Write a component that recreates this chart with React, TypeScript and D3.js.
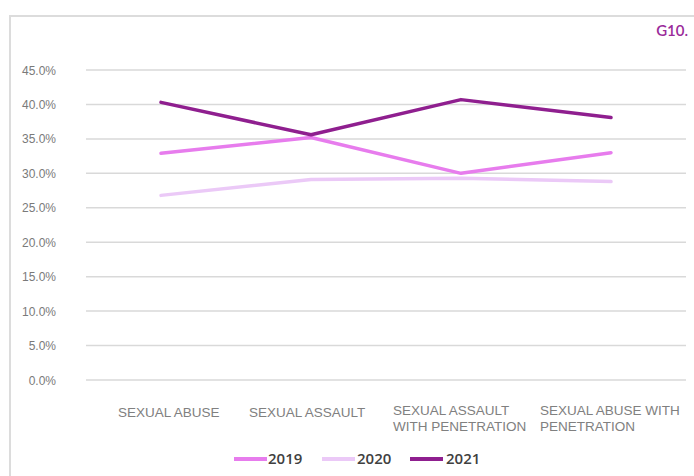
import React from "react";
import * as d3 from "d3";

const categories: string[][] = [
  ["SEXUAL ABUSE"],
  ["SEXUAL ASSAULT"],
  ["SEXUAL ASSAULT", "WITH PENETRATION"],
  ["SEXUAL ABUSE WITH", "PENETRATION"],
];
const seriesNames = ["2019", "2020", "2021"];
const values2019 = [32.9, 35.2, 30.0, 33.0];
const values2020 = [26.8, 29.1, 29.3, 28.8];
const values2021 = [40.3, 35.6, 40.7, 38.1];
const yTicks = [0, 5, 10, 15, 20, 25, 30, 35, 40, 45];
const seriesColors = ["#e77ced", "#ebc9f7", "#8f1f8f"];

const W = 694;
const H = 476;
const plot = { left: 86, right: 686, top: 70, bottom: 380 };
// left edge of each caption block, relative to its band centre
const labelShift = [-43, -62, -68, -71];

export default function App() {
  const x = d3
    .scaleBand<number>()
    .domain(categories.map((_, i) => i))
    .range([plot.left, plot.right]);
  const y = d3.scaleLinear().domain([0, 45]).range([plot.bottom, plot.top]);
  const line = d3
    .line<number>()
    .x((_, i) => (x(i) as number) + x.bandwidth() / 2)
    .y((v) => y(v));
  const series = [values2019, values2020, values2021];

  const legendItems = [
    { lx: 234, tx: 268 },
    { lx: 322, tx: 357 },
    { lx: 410, tx: 446 },
  ];

  return (
    <svg
      width={W}
      height={H}
      style={{ position: "absolute", left: 0, top: 0, background: "#fff" }}
      fontFamily="'Liberation Sans', Arial, sans-serif"
    >
      <rect x={10} y={16} width={W + 10} height={H + 10} fill="none" stroke="#dcdcdc" strokeWidth={2} />
      <text x={688} y={36} textAnchor="end" fontSize={15} fontWeight={600} fill="#9a2b9a" fontFamily="Lato, sans-serif">
        G10.
      </text>

      {yTicks.map((t) => (
        <g key={t}>
          <line x1={plot.left} x2={plot.right} y1={y(t)} y2={y(t)} stroke="#d9d9d9" strokeWidth={1.5} />
          <text x={56} y={y(t) + 4.5} textAnchor="end" fontSize={12} fill="#7a7a7a">
            {t.toFixed(1)}%
          </text>
        </g>
      ))}

      {series.map((vals, si) => (
        <path
          key={si}
          d={line(vals) || ""}
          fill="none"
          stroke={seriesColors[si]}
          strokeWidth={3.5}
          strokeLinecap="round"
          strokeLinejoin="round"
        />
      ))}

      {categories.map((lines, i) => {
        const lx = (x(i) as number) + x.bandwidth() / 2 + labelShift[i];
        return (
          <text
            key={i}
            x={lx}
            y={lines.length === 1 ? 417 : 415}
            textAnchor="start"
            fontSize={13.5}
            fill="#808080"
          >
            {lines.map((l, j) => (
              <tspan key={j} x={lx} dy={j === 0 ? 0 : 16}>
                {l}
              </tspan>
            ))}
          </text>
        );
      })}

      {seriesNames.map((name, si) => (
        <g key={name}>
          <line
            x1={legendItems[si].lx}
            x2={legendItems[si].lx + 33}
            y1={459}
            y2={459}
            stroke={seriesColors[si]}
            strokeWidth={4}
          />
          <text x={legendItems[si].tx} y={464} fontSize={15} fontWeight={600} fill="#404040" fontFamily="'Open Sans', sans-serif">
            {name}
          </text>
        </g>
      ))}
    </svg>
  );
}
